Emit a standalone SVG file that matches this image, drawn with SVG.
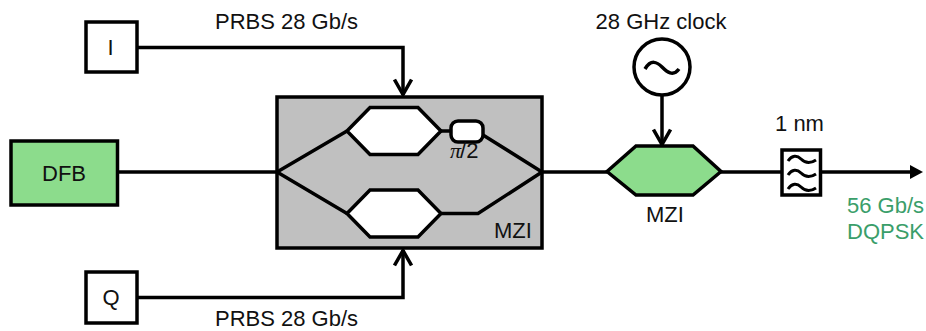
<svg xmlns="http://www.w3.org/2000/svg" width="926" height="331" viewBox="0 0 926 331">
<style>
text{font-family:"Liberation Sans",Arial,sans-serif;font-size:22px;fill:#111}
.m{text-anchor:middle}
.s{fill:none;stroke:#000;stroke-width:3.5;stroke-linejoin:miter}
.b{stroke:#000;stroke-width:3.5}
.g{fill:#8cdc8c}
.w{fill:#fff}
text.t{fill:#3a9e6a}
.pi{font-family:"Liberation Serif",serif;font-style:italic}
</style>
<defs>
<marker id="a" viewBox="0 0 20 20" refX="10" refY="17" markerWidth="20" markerHeight="20" markerUnits="userSpaceOnUse" orient="0"><path d="M1.500 1.500L10 16.500L18.500 1.500" fill="none" stroke="#000" stroke-width="3.500"/></marker>
<marker id="u" viewBox="0 0 20 20" refX="10" refY="3" markerWidth="20" markerHeight="20" markerUnits="userSpaceOnUse" orient="0"><path d="M1.500 18.500L10 3.500L18.500 18.500" fill="none" stroke="#000" stroke-width="3.500"/></marker>
</defs>
<g id="mzi-outer">
<rect x="277" y="97" width="265" height="151" fill="#c0c0c0" stroke="#000" stroke-width="3.500"/>
<path class="b w" d="M347 131L370 107.500H418L441 131L418 154.500H370Z"/>
<path class="b w" d="M347 213.500L370 190H418L441 213.500L418 237H370Z"/>
<rect class="b w" x="451" y="121" width="32" height="21" rx="7"/>
<text x="450" y="158"><tspan class="pi">π</tspan><tspan dx="-1">/2</tspan></text>
<text x="494" y="238">MZI</text>
</g>
<g id="connectors">
<path class="s" d="M137 47.500H403V95" marker-end="url(#a)"/>
<path class="s" d="M137 297.500H403V250" marker-end="url(#u)"/>
<path class="s" d="M118 172H277"/>
<path class="s" d="M277 172L347 131M441 131H451M483 135L542 172"/>
<path class="s" d="M277 172L347 213.500M441 213.500H478L542 172"/>
<path class="s" d="M542 172H607"/>
<path class="s" d="M662 95V145" marker-end="url(#a)"/>
<path class="s" d="M720 172H782"/>
<path d="M820 172H910" class="s"/>
<path d="M910 165L923 172L910 179Z" fill="#000"/>
</g>
<g id="node-i"><rect class="b w" x="86" y="22" width="51" height="50"/><text class="m" x="110.500" y="55">I</text></g>
<g id="node-q"><rect class="b w" x="86" y="272" width="51" height="51"/><text class="m" x="111" y="305">Q</text></g>
<g id="node-dfb"><rect class="b g" x="11" y="141" width="106.500" height="64"/><text class="m" x="64" y="181">DFB</text></g>
<g id="node-clock"><circle class="b w" cx="662" cy="67" r="28"/><path class="s" d="M645 69C651 59 657 62 662 67C667 72 673 77 679 69"/><text class="m" x="661" y="29">28 GHz clock</text></g>
<g id="node-mzi2"><path class="b g" d="M607 171.500L636 146H693L721 171.500L693 195H636Z"/><text class="m" x="665" y="222">MZI</text></g>
<g id="node-filter"><rect class="b w" x="782" y="150" width="38.500" height="45"/>
<path class="s" style="stroke-width:3" d="M788 161C792 155 797 155 801 159C805 163 810 164 816 160M788 175C792 169 797 169 801 173C805 177 810 178 816 174M788 189C792 183 797 183 801 187C805 191 810 192 816 188"/>
<text class="m" x="799.500" y="131">1 nm</text></g>
<g id="labels">
<text x="215" y="29">PRBS 28 Gb/s</text>
<text x="215" y="326">PRBS 28 Gb/s</text>
<text class="t" x="847" y="213">56 Gb/s</text>
<text class="t" x="847" y="239">DQPSK</text>
</g>
</svg>
